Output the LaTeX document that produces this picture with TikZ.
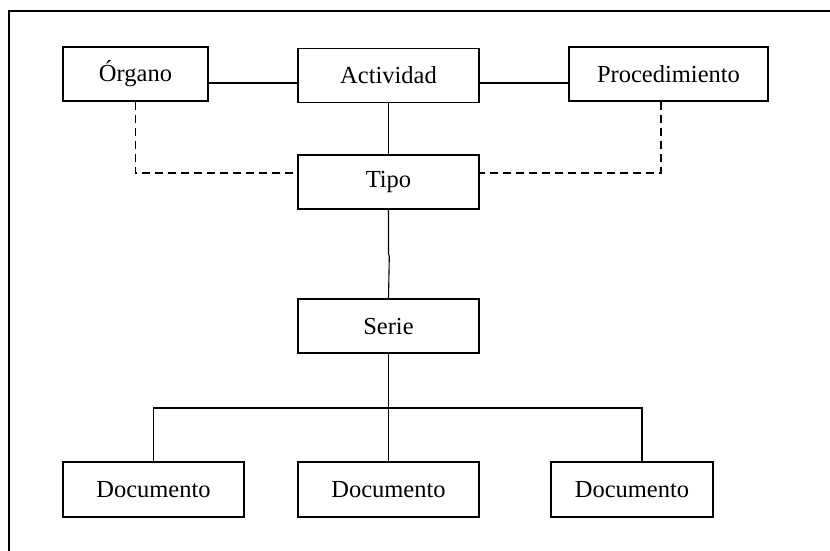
\documentclass[tikz,border=0pt]{standalone}
\usepackage{fontspec}
\setmainfont{Liberation Serif}
\begin{document}
\begin{tikzpicture}[x=1pt,y=-1pt,
  box/.style={draw,line width=1.1pt,inner sep=0pt,minimum height=54pt,
    font=\fontsize{24.5}{29}\selectfont},
  link/.style={line width=1.1pt},
  dashlink/.style={line width=1.1pt,dash pattern=on 8pt off 5pt}]
\useasboundingbox (0,0) rectangle (830,550);
% open frame on the left and top
\draw[line width=2.2pt] (9,552) -- (9,11) -- (832,11);

% boxes
\node[box,minimum width=145pt] (organo) at (135.5,74) {Órgano};
\node[box,minimum width=181pt] (actividad) at (388.5,75.5) {Actividad};
\node[box,minimum width=199pt] (procedimiento) at (668.5,74) {Procedimiento};
\node[box,minimum width=181pt] (tipo) at (388.5,182) {Tipo};
\node[box,minimum width=181pt] (serie) at (388.5,326) {Serie};
\node[box,minimum width=181pt,minimum height=55pt] (doc1) at (153.5,489.5) {Documento};
\node[box,minimum width=181pt,minimum height=55pt] (doc2) at (388.5,489.5) {Documento};
\node[box,minimum width=162pt,minimum height=55pt] (doc3) at (632,489.5) {Documento};

% solid links on the top row
\coordinate (top) at (0,83);
\draw[link] (organo.east |- top) -- (actividad.west |- top);
\draw[link] (actividad.east |- top) -- (procedimiento.west |- top);
\draw[link] (actividad.south) -- (tipo.north);

% dashed links into Tipo
\coordinate (dl) at (0,173);
\draw[dashlink] (organo.south) -- (organo.south |- dl) -- (tipo.west |- dl);
\coordinate (pd) at (661,0);
\draw[dashlink] (pd |- procedimiento.south) -- (pd |- dl) -- (tipo.east |- dl);

% Tipo to Serie
\draw[link] (tipo.south) -- ++(0,44) -- ++(0.8,3) -- (serie.north);

% Serie to the documents
\coordinate (bus) at (0,408);
\coordinate (r3) at (642,0);
\draw[link] (serie.south) -- (doc2.north);
\draw[link] (doc1.north) -- (doc1.north |- bus) -- (r3 |- bus) -- (r3 |- doc3.north);
\end{tikzpicture}
\end{document}
